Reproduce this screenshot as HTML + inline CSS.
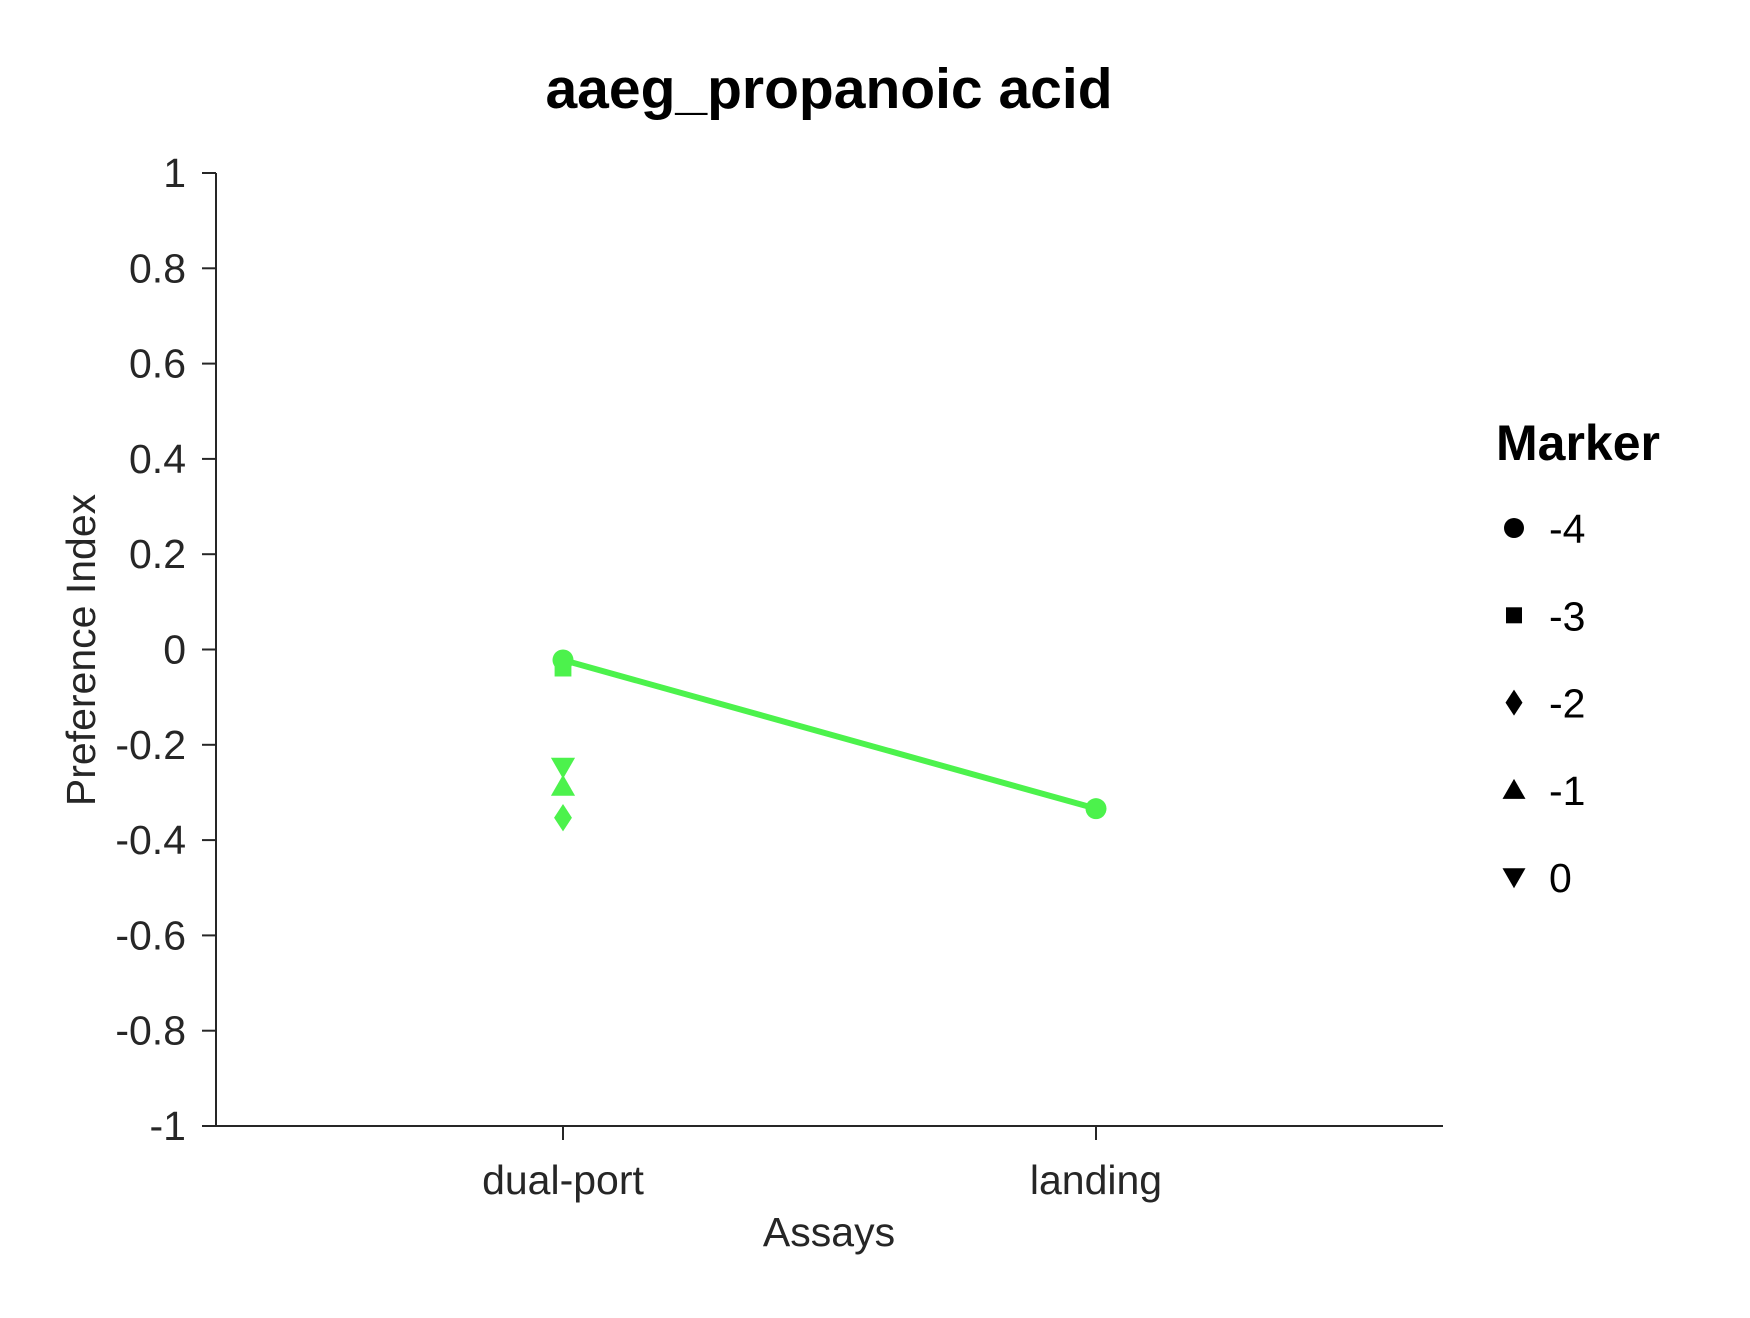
<!DOCTYPE html>
<html><head><meta charset="utf-8"><style>
html,body{margin:0;padding:0;background:#fff;}
svg text{font-family:"Liberation Sans",Arial,sans-serif;}
</style></head><body>
<svg id="chart" width="1750" height="1313" viewBox="0 0 1750 1313" xmlns="http://www.w3.org/2000/svg">
<rect width="1750" height="1313" fill="#fff"/>
<text x="829" y="108" font-size="57" font-weight="bold" text-anchor="middle" fill="#000">aaeg_propanoic acid</text>
<g id="axes"></g>
<g id="marks"></g>
<g id="legend"></g>
</svg>
<script>
const categories = ["dual-port", "landing"];
const lineValues = [-0.022, -0.334];
const pointCategories = ["dual-port", "dual-port", "dual-port", "dual-port", "dual-port", "landing"];
const pointValues = [-0.022, -0.039, -0.247, -0.287, -0.353, -0.334];
const pointShapes = ["circle", "square", "tri-down", "tri-up", "diamond", "circle"];
const yTicks = [1, 0.8, 0.6, 0.4, 0.2, 0, -0.2, -0.4, -0.6, -0.8, -1];
const yTickLabels = ["1", "0.8", "0.6", "0.4", "0.2", "0", "-0.2", "-0.4", "-0.6", "-0.8", "-1"];
const legendLabels = ["-4", "-3", "-2", "-1", "0"];
const legendShapes = ["circle", "square", "diamond", "tri-up", "tri-down"];

const NS = "http://www.w3.org/2000/svg";
const L = 216, R = 1443, T = 173, B = 1126;
const catX = {"dual-port": 563, "landing": 1096};
function xScale(c){ return catX[c]; }
function yScale(v){ return T + (1 - v) / 2 * (B - T); }
function mk(tag, attrs, parent){ const e = document.createElementNS(NS, tag); for (const k in attrs) e.setAttribute(k, attrs[k]); parent.appendChild(e); return e; }
function shape(kind, x, y, s, fill, parent){
  let e;
  if (kind === "circle") e = mk("circle", {cx: x, cy: y, r: s}, parent);
  else if (kind === "square") e = mk("rect", {x: x - s * 0.8, y: y - s * 0.8, width: s * 1.6, height: s * 1.6}, parent);
  else if (kind === "diamond") e = mk("polygon", {points: `${x},${y - s * 1.3} ${x + s * 0.85},${y} ${x},${y + s * 1.3} ${x - s * 0.85},${y}`}, parent);
  else if (kind === "tri-up") e = mk("polygon", {points: `${x},${y - s * 1.1} ${x + s * 1.15},${y + s * 0.9} ${x - s * 1.15},${y + s * 0.9}`}, parent);
  else e = mk("polygon", {points: `${x},${y + s * 1.1} ${x + s * 1.15},${y - s * 0.9} ${x - s * 1.15},${y - s * 0.9}`}, parent);
  e.setAttribute("fill", fill);
  return e;
}
const axes = document.getElementById("axes");
const yAxis = mk("line", {x1: L, y1: T, x2: L, y2: B, stroke: "#262626", "stroke-width": 2}, axes);


const xAxis = mk("line", {x1: L - 14, y1: B, x2: R, y2: B, stroke: "#262626", "stroke-width": 2}, axes);


yTicks.forEach((v, i) => {
  const y = yScale(v);
  const t = mk("line", {x1: L - 14, y1: y, x2: L, y2: y, stroke: "#262626", "stroke-width": 2}, axes);
  
  
  const lb = mk("text", {x: 186, y: y + 14, "font-size": 41, "text-anchor": "end", fill: "#262626"}, axes);
  lb.textContent = yTickLabels[i];
  
  
});
categories.forEach(c => {
  const x = xScale(c);
  const t = mk("line", {x1: x, y1: B, x2: x, y2: B + 14, stroke: "#262626", "stroke-width": 2}, axes);
  
  
  const lb = mk("text", {x: x, y: 1194, "font-size": 41, "text-anchor": "middle", fill: "#262626"}, axes);
  lb.textContent = c;
  
  
});
const xt = mk("text", {x: 829, y: 1246, "font-size": 41, "text-anchor": "middle", fill: "#262626"}, axes);
xt.textContent = "Assays";


const yt = mk("text", {x: 0, y: 0, "font-size": 41, "text-anchor": "middle", fill: "#262626", transform: "translate(95,650) rotate(-90)"}, axes);
yt.textContent = "Preference Index";



const marks = document.getElementById("marks");
const green = "#4cf24c";
const pts = categories.map((c, i) => `${xScale(c)},${yScale(lineValues[i])}`).join(" ");
const ln = mk("polyline", {points: pts, fill: "none", stroke: green, "stroke-width": 6}, marks);


pointValues.forEach((v, i) => {
  const p = shape(pointShapes[i], xScale(pointCategories[i]), yScale(v), 10.5, green, marks);
  
  
});

const legend = document.getElementById("legend");
const lt = mk("text", {x: 1496, y: 460, "font-size": 50, "font-weight": "bold", fill: "#000"}, legend);
lt.textContent = "Marker";


legendLabels.forEach((lab, i) => {
  const y = 528 + i * 87.3;
  const m = shape(legendShapes[i], 1514, y, 10, "#000", legend);
  
  
  const t = mk("text", {x: 1549, y: y + 15, "font-size": 41, fill: "#000"}, legend);
  t.textContent = lab;
  
  
});
</script>
</body></html>
